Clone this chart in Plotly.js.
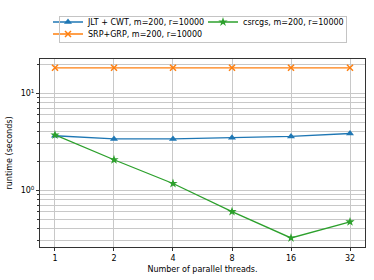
<!DOCTYPE html>
<html><head><meta charset="utf-8">
<script src="https://cdn.plot.ly/plotly-3.0.1.min.js"></script>
<style>body{margin:0;padding:0;}#c{width:374px;height:280px;}</style>
</head><body><div id="c"></div>
<script>
const threads = [1, 2, 4, 8, 16, 32];
const jltCwt = [3.65, 3.38, 3.38, 3.47, 3.59, 3.85];
const srpGrp = [18.4, 18.4, 18.4, 18.4, 18.4, 18.4];
const csrcgs = [3.72, 2.06, 1.17, 0.60, 0.32, 0.47];
const names = ['JLT + CWT, m=200, r=10000', 'SRP+GRP, m=200, r=10000', 'csrcgs, m=200, r=10000'];
const xTickText = ['1', '2', '4', '8', '16', '32'];

const traces = [
  {x: threads, y: jltCwt, name: names[0], mode: 'lines+markers', legend: 'legend',
   line: {color: '#1f77b4', width: 1.3}, marker: {symbol: 'triangle-up', size: 7, color: '#1f77b4'}},
  {x: threads, y: srpGrp, name: names[1], mode: 'lines+markers', legend: 'legend3',
   line: {color: '#ff7f0e', width: 1.3}, marker: {symbol: 'x-thin-open', size: 6, color: '#ff7f0e', line: {width: 1.5, color: '#ff7f0e'}}},
  {x: threads, y: csrcgs, name: names[2], mode: 'lines+markers', legend: 'legend2',
   line: {color: '#2ca02c', width: 1.3}, marker: {symbol: 'star', size: 7, color: '#2ca02c'}}
];

const W = 374, H = 280, mL = 40, mR = 9, mT = 58, mB = 33;
const pw = W - mL - mR, ph = H - mT - mB;
const px = v => (v - mL) / pw;
const py = v => (H - mB - v) / ph;

const minorY = [0.3,0.4,0.5,0.6,0.7,0.8,0.9,2,3,4,5,6,7,8,9,20];
const legCommon = {bgcolor: 'rgba(0,0,0,0)', borderwidth: 0, font: {size: 8}, itemwidth: 30,
  xanchor: 'left', yanchor: 'middle', tracegroupgap: 0, traceorder: 'normal'};
const layout = {
  width: W, height: H,
  margin: {l: mL, r: mR, t: mT, b: mB},
  paper_bgcolor: 'white', plot_bgcolor: 'white',
  font: {family: 'DejaVu Sans', size: 8, color: '#000'},
  showlegend: true,
  legend: Object.assign({}, legCommon, {x: px(48), y: py(22)}),
  legend3: Object.assign({}, legCommon, {x: px(48), y: py(34)}),
  legend2: Object.assign({}, legCommon, {x: px(203), y: py(22)}),
  annotations: [{xref: 'paper', yref: 'paper', x: px(59), y: py(15), xanchor: 'left', yanchor: 'top',
    text: ' ', showarrow: false, width: 286, height: 25, borderpad: 0,
    bordercolor: '#c4c4c4', borderwidth: 1, bgcolor: 'rgba(255,255,255,0)'}],
  xaxis: {type: 'log', range: [-0.0765, 1.5817], tickvals: threads, ticktext: xTickText,
    showgrid: true, gridcolor: '#c8c8c8', gridwidth: 1,
    showline: true, mirror: true, linecolor: '#333', linewidth: 1,
    ticks: 'outside', ticklen: 3, tickcolor: '#333', zeroline: false,
    title: {text: 'Number of parallel threads.', font: {size: 8}, standoff: 4}},
  yaxis: {type: 'log', range: [Math.log10(0.258), Math.log10(22.7)], tickvals: [1, 10],
    ticktext: ['10<sup>0</sup>', '10<sup>1</sup>'],
    showgrid: true, gridcolor: '#c8c8c8', gridwidth: 1,
    showline: true, mirror: true, linecolor: '#333', linewidth: 1,
    ticks: 'outside', ticklen: 3, tickcolor: '#333', zeroline: false,
    minor: {tickvals: minorY, showgrid: true, gridcolor: '#c8c8c8', gridwidth: 1, ticks: 'outside', ticklen: 2, tickcolor: '#333'},
    title: {text: 'runtime (seconds)', font: {size: 8}, standoff: 6}}
};
Plotly.newPlot('c', traces, layout, {displayModeBar: false, staticPlot: true});
</script></body></html>
